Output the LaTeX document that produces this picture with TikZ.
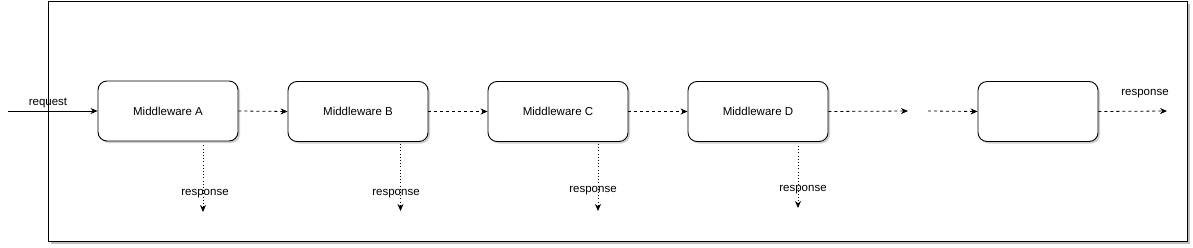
\documentclass[tikz,border=0pt]{standalone}
\usepackage{fontspec}
\setmainfont{Liberation Sans}
\usetikzlibrary{arrows.meta,shadows}
\begin{document}
\begin{tikzpicture}[x=1pt,y=-1pt,
  mw/.style={draw=black,line width=0.9pt,rounded corners=9pt,fill=white,
    minimum width=140pt,minimum height=60pt,inner sep=0pt,font=\fontsize{11.5}{13}\selectfont,
    drop shadow={shadow xshift=2pt,shadow yshift=-2pt,fill=black!30,opacity=0.6}},
  lbl/.style={font=\fontsize{11.5}{13}\selectfont,inner sep=1pt},
  tip/.style={-{Stealth[length=7pt,width=6pt]}},
  dsh/.style={tip,line width=0.8pt,dash pattern=on 3pt off 3pt},
  dot/.style={tip,line width=0.8pt,dash pattern=on 1pt off 2.2pt}]
\useasboundingbox (0,0) rectangle (1193,247);
\fill[black!25] (51,4) rectangle (1190,244);
\draw[fill=white,line width=0.9pt] (48,1) rectangle (1187,241);
\node[mw] (A) at (168,111) {Middleware A};
\node[mw] (B) at (358,111.5) {Middleware B};
\node[mw] (C) at (558,111.5) {Middleware C};
\node[mw] (D) at (758,111.5) {Middleware D};
\node[mw,minimum width=120pt] (E) at (1038,111.5) {};
\coordinate (in) at (8,111);
\coordinate (dEnd) at (908,111);
\coordinate (eStart) at (928,111);
\coordinate (out) at (1167,111);
\draw[tip,line width=0.8pt] (in) -- (A.west);
\node[lbl] (req) at (48,103) {request};
\draw[dsh] (A.east) -- (B.west);
\draw[dsh] (B.east) -- (C.west);
\draw[dsh] (C.east) -- (D.west);
\draw[dsh] (D.east) -- (dEnd);
\draw[dsh] (eStart) -- (E.west);
\draw[dsh] (E.east) -- (out);
\node[lbl] (rE) at (1145,93.5) {response};
\coordinate (aEnd) at (203,212);
\coordinate (bEnd) at (400.5,211);
\coordinate (cEnd) at (598,211);
\coordinate (dDown) at (798,208);
\draw[dot] ([xshift=35pt,yshift=-4pt]A.south) -- (aEnd);
\draw[dot] ([xshift=42.5pt,yshift=-2pt]B.south) -- (bEnd);
\draw[dot] ([xshift=40pt,yshift=-2pt]C.south) -- (cEnd);
\draw[dot] ([xshift=40pt,yshift=-4pt]D.south) -- (dDown);
\node[lbl] (rA) at (205,193.5) {response};
\node[lbl] (rB) at (396,193.5) {response};
\node[lbl] (rC) at (593,190.5) {response};
\node[lbl] (rD) at (803,189.5) {response};
\end{tikzpicture}
\end{document}
